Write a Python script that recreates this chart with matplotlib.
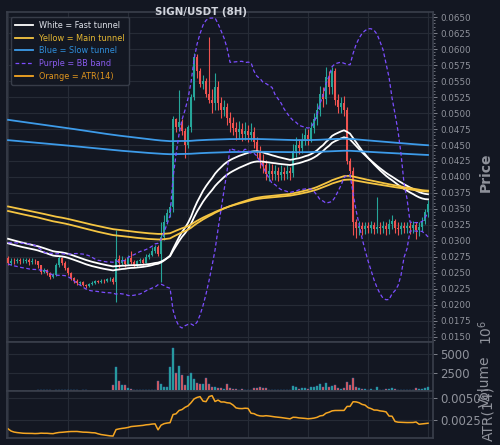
import matplotlib
matplotlib.use("Agg")
import matplotlib.pyplot as plt
import pandas as pd
from matplotlib.ticker import MultipleLocator, AutoMinorLocator, FixedLocator, FormatStrFormatter

# ---- data (8H candles) ----
first_open = 0.0273
closes = [
    0.0266, 0.0269, 0.0268, 0.0270, 0.0268, 0.0269, 0.0270, 0.0267, 0.0269, 0.0268,
    0.0262, 0.0252, 0.0255, 0.0250, 0.0244, 0.0247, 0.0262, 0.0273, 0.0266, 0.0258,
    0.0250, 0.0242, 0.0238, 0.0234, 0.0236, 0.0231, 0.0229, 0.0233, 0.0235, 0.0237,
    0.0236, 0.0238, 0.0237, 0.0240, 0.0241, 0.0236, 0.0272, 0.0266, 0.0271, 0.0264,
    0.0274, 0.0267, 0.0262, 0.0268, 0.0271, 0.0266, 0.0275, 0.0278, 0.0284, 0.0290,
    0.0280, 0.0306, 0.0330, 0.0344, 0.0353, 0.0490, 0.0478, 0.0486, 0.0472, 0.0450,
    0.0478, 0.0525, 0.0588, 0.0565, 0.0545, 0.0550, 0.0530, 0.0520, 0.0515, 0.0540,
    0.0515, 0.0505, 0.0510, 0.0492, 0.0485, 0.0476, 0.0470, 0.0475, 0.0467, 0.0472,
    0.0466, 0.0470, 0.0455, 0.0440, 0.0425, 0.0418, 0.0405, 0.0410, 0.0404, 0.0409,
    0.0403, 0.0408, 0.0404, 0.0409, 0.0406, 0.0440, 0.0450, 0.0445, 0.0458, 0.0465,
    0.0460, 0.0476, 0.0490, 0.0505, 0.0530, 0.0522, 0.0556, 0.0540, 0.0565, 0.0520,
    0.0510, 0.0515, 0.0505, 0.0425, 0.0410, 0.0330, 0.0321, 0.0324, 0.0318, 0.0323,
    0.0321, 0.0325, 0.0319, 0.0322, 0.0320, 0.0324, 0.0318, 0.0327, 0.0331, 0.0321,
    0.0319, 0.0323, 0.0320, 0.0324, 0.0321, 0.0325, 0.0317, 0.0322, 0.0332, 0.0345,
    0.0358,
]
highs = [
    0.0277, 0.0273, 0.0273, 0.0274, 0.0273, 0.0273, 0.0274, 0.0273, 0.0273, 0.0272,
    0.0269, 0.0263, 0.0258, 0.0257, 0.0252, 0.0250, 0.0265, 0.0277, 0.0275, 0.0268,
    0.0260, 0.0252, 0.0244, 0.0240, 0.0238, 0.0237, 0.0233, 0.0235, 0.0237, 0.0239,
    0.0239, 0.0240, 0.0240, 0.0242, 0.0244, 0.0243, 0.0317, 0.0278, 0.0276, 0.0274,
    0.0278, 0.0285, 0.0270, 0.0271, 0.0274, 0.0273, 0.0279, 0.0282, 0.0290, 0.0294,
    0.0293, 0.0330, 0.0340, 0.0350, 0.0360, 0.0496, 0.0492, 0.0536, 0.0490, 0.0476,
    0.0482, 0.0530, 0.0594, 0.0592, 0.0570, 0.0560, 0.0555, 0.0619, 0.0538, 0.0562,
    0.0550, 0.0525, 0.0520, 0.0515, 0.0502, 0.0494, 0.0486, 0.0488, 0.0484, 0.0486,
    0.0482, 0.0484, 0.0478, 0.0462, 0.0448, 0.0436, 0.0426, 0.0422, 0.0420, 0.0418,
    0.0416, 0.0418, 0.0416, 0.0418, 0.0416, 0.0452, 0.0462, 0.0460, 0.0468, 0.0476,
    0.0475, 0.0486, 0.0500, 0.0516, 0.0542, 0.0540, 0.0572, 0.0565, 0.0572, 0.0570,
    0.0530, 0.0525, 0.0526, 0.0510, 0.0430, 0.0416, 0.0334, 0.0331, 0.0329, 0.0330,
    0.0330, 0.0332, 0.0330, 0.0369, 0.0329, 0.0331, 0.0330, 0.0334, 0.0341, 0.0335,
    0.0329, 0.0330, 0.0329, 0.0330, 0.0329, 0.0332, 0.0330, 0.0329, 0.0338, 0.0350,
    0.0364,
]
lows = [
    0.0262, 0.0263, 0.0264, 0.0265, 0.0264, 0.0265, 0.0265, 0.0263, 0.0264, 0.0264,
    0.0258, 0.0249, 0.0250, 0.0247, 0.0241, 0.0242, 0.0245, 0.0260, 0.0263, 0.0255,
    0.0247, 0.0239, 0.0235, 0.0231, 0.0232, 0.0229, 0.0226, 0.0228, 0.0231, 0.0233,
    0.0234, 0.0235, 0.0235, 0.0236, 0.0238, 0.0233, 0.0205, 0.0258, 0.0262, 0.0260,
    0.0262, 0.0264, 0.0259, 0.0260, 0.0265, 0.0263, 0.0265, 0.0272, 0.0276, 0.0281,
    0.0276, 0.0236, 0.0302, 0.0326, 0.0338, 0.0345, 0.0470, 0.0472, 0.0466, 0.0430,
    0.0445, 0.0470, 0.0520, 0.0555, 0.0540, 0.0538, 0.0525, 0.0515, 0.0500, 0.0505,
    0.0505, 0.0492, 0.0495, 0.0482, 0.0470, 0.0465, 0.0458, 0.0460, 0.0456, 0.0458,
    0.0455, 0.0457, 0.0446, 0.0430, 0.0414, 0.0406, 0.0395, 0.0394, 0.0395, 0.0396,
    0.0393, 0.0395, 0.0395, 0.0397, 0.0396, 0.0400, 0.0432, 0.0436, 0.0438, 0.0450,
    0.0450, 0.0454, 0.0468, 0.0482, 0.0496, 0.0510, 0.0514, 0.0530, 0.0530, 0.0512,
    0.0500, 0.0500, 0.0496, 0.0420, 0.0405, 0.0310, 0.0304, 0.0310, 0.0310, 0.0311,
    0.0312, 0.0313, 0.0311, 0.0312, 0.0311, 0.0312, 0.0310, 0.0311, 0.0318, 0.0313,
    0.0310, 0.0311, 0.0312, 0.0313, 0.0311, 0.0312, 0.0303, 0.0308, 0.0315, 0.0326,
    0.0338,
]
volumes = [  # shown on the chart in units of 10^6
    60, 40, 50, 40, 50, 40, 60, 50, 40, 50,
    120, 150, 80, 90, 110, 70, 160, 200, 90, 80,
    100, 110, 90, 80, 70, 90, 80, 70, 60, 70,
    50, 60, 50, 60, 70, 800, 3300, 1300, 800, 800,
    400, 300, 150, 120, 100, 100, 120, 100, 150, 200,
    1300, 1000, 600, 600, 3200, 5800, 2500, 3400, 2200, 800,
    2000, 2400, 1600, 1100, 1000, 900, 1700, 1000, 600, 500,
    400, 350, 300, 900, 400, 300, 250, 200, 250, 200,
    200, 200, 400, 450, 500, 350, 400, 200, 150, 150,
    120, 150, 120, 150, 150, 700, 500, 300, 400, 450,
    300, 500, 600, 700, 900, 500, 1100, 600, 700, 800,
    400, 300, 400, 1200, 800, 1800, 600, 400, 300, 250,
    200, 250, 200, 600, 200, 200, 250, 300, 400, 250,
    200, 200, 150, 200, 150, 200, 350, 250, 300, 400,
    500,
]
# closes before the visible window (only used to warm up the BB)
hist_closes = [0.0283, 0.0282, 0.0284, 0.0283, 0.0281, 0.0280, 0.0282, 0.0284, 0.0288, 0.0293,
               0.0296, 0.0292, 0.0286, 0.0280, 0.0275, 0.0271, 0.0269, 0.0268, 0.0270]
# tunnel EMA values at the left edge of the chart: (upper line, lower line)
fast_seed = (0.0305, 0.0298)
main_seed = (0.0355, 0.0348)
slow_seed = (0.0490, 0.0458)

# ---- indicators ----
n = len(closes)
x = list(range(n))
opens = [first_open] + closes[:-1]
cs, hs, ls = pd.Series(closes), pd.Series(highs), pd.Series(lows)


def ema(s, span, seed):
    return pd.concat([pd.Series([seed]), s], ignore_index=True).ewm(span=span, adjust=False).mean().iloc[1:].values


fast_a, fast_b = ema(cs, 50, fast_seed[0]), ema(cs, 40, fast_seed[1])
main_a, main_b = ema(cs, 169, main_seed[0]), ema(cs, 144, main_seed[1])
slow_a, slow_b = ema(cs, 676, slow_seed[0]), ema(cs, 900, slow_seed[1])

allc = pd.Series(hist_closes + closes)
mid = allc.rolling(20, min_periods=1).mean()
sd = allc.rolling(20, min_periods=1).std(ddof=0)
bb_up = (mid + 2 * sd).iloc[-n:].values
bb_lo = (mid - 2 * sd).iloc[-n:].values

pc = pd.Series(opens)
tr = pd.concat([hs - ls, (hs - pc).abs(), (ls - pc).abs()], axis=1).max(axis=1)
atr = tr.rolling(14, min_periods=1).mean().values

# ---- style ----
bg = "#131722"
grid_c = "#262b36"
spine_c = "#3a3f4b"
txt_c = "#8f929b"
up_c, dn_c = "#26a69a", "#ef5350"
yel, blu, pur, org = "#f5c542", "#3d9be9", "#7c4dff", "#f5a623"

fig = plt.figure(figsize=(5, 4.45), dpi=100, facecolor=bg)
ax = fig.add_axes([0.014, 0.2315, 0.852, 0.7415], facecolor=bg)
axv = fig.add_axes([0.014, 0.1213, 0.852, 0.1102], facecolor=bg, sharex=ax)
axa = fig.add_axes([0.014, 0.0157, 0.852, 0.1056], facecolor=bg, sharex=ax)

cols = [up_c if c >= o else dn_c for o, c in zip(opens, closes)]
ax.vlines(x, lows, highs, colors=cols, lw=0.8, zorder=2)
ax.bar(x, [abs(c - o) or 0.00003 for o, c in zip(opens, closes)],
       bottom=[min(o, c) for o, c in zip(opens, closes)], width=0.6, color=cols, zorder=3)

ax.plot(x, fast_a, color="white", lw=1.3, label="White = Fast tunnel", zorder=4)
ax.plot(x, fast_b, color="white", lw=1.3, zorder=4)
ax.plot(x, main_a, color=yel, lw=1.3, label="Yellow = Main tunnel", zorder=4)
ax.plot(x, main_b, color=yel, lw=1.3, zorder=4)
ax.plot(x, slow_a, color=blu, lw=1.3, label="Blue = Slow tunnel", zorder=4)
ax.plot(x, slow_b, color=blu, lw=1.3, zorder=4)
ax.plot(x, bb_up, color=pur, lw=0.9, ls=(0, (3, 2)), label="Purple = BB band", zorder=4)
ax.plot(x, bb_lo, color=pur, lw=0.9, ls=(0, (3, 2)), zorder=4)
ax.plot([], [], color=org, lw=1.3, label="Orange = ATR(14)")

leg = ax.legend(loc="upper left", fontsize=5.9, facecolor=bg, edgecolor=spine_c, framealpha=0.95,
                borderpad=0.5, handlelength=2.2, handletextpad=0.7, labelspacing=0.45,
                borderaxespad=0.3, bbox_to_anchor=(0.004, 0.993))
for t, c in zip(leg.get_texts(), ["#e0e3eb", "#e6b832", "#2f8fdc", "#8a5cf0", "#e0951e"]):
    t.set_color(c)

axv.bar(x, volumes, width=0.8, color=cols, edgecolor="#2f6fb0", linewidth=0.3)
axa.plot(x, atr, color=org, lw=1.1)

ax.set_xlim(-0.35, 141.65)
ax.set_ylim(0.01422, 0.06578)
axv.set_ylim(0, 6620)
axa.set_ylim(0.000455, 0.0058)

ax.yaxis.set_major_locator(MultipleLocator(0.0025))
ax.yaxis.set_minor_locator(AutoMinorLocator(5))
ax.yaxis.set_major_formatter(FormatStrFormatter("%.4f"))
axv.yaxis.set_major_locator(FixedLocator([2500, 5000]))
axa.yaxis.set_major_locator(FixedLocator([0.0025, 0.0050]))
axa.yaxis.set_major_formatter(FormatStrFormatter("%.4f"))
ax.xaxis.set_major_locator(MultipleLocator(20))

for a, fs in [(ax, 6.3), (axv, 8.5), (axa, 8.5)]:
    a.yaxis.tick_right()
    a.tick_params(axis="y", colors=txt_c, labelsize=fs, length=3, width=0.6, pad=2)
    a.tick_params(axis="y", which="minor", colors=txt_c, length=1.5, width=0.5)
    a.tick_params(axis="x", length=0, labelbottom=False)
    a.grid(True, color=grid_c, lw=0.8)
    a.set_axisbelow(True)
    for s in a.spines.values():
        s.set_color(spine_c)
        s.set_linewidth(1.2)

fig.text(0.402, 0.973, "SIGN/USDT (8H)", color="#d1d4dc", fontsize=7.4, fontweight="bold",
         ha="center", va="center")
fig.text(0.972, 0.613, "Price", color=txt_c, fontsize=10, fontweight="bold", rotation=90,
         ha="center", va="center")
fig.text(0.972, 0.254, r"$10^6$", color=txt_c, fontsize=10, rotation=90, ha="center", va="center")
fig.text(0.970, 0.143, "Volume", color=txt_c, fontsize=10, rotation=90, ha="center", va="center")
fig.text(0.976, 0.070, "ATR(14)", color=txt_c, fontsize=10, rotation=90, ha="center", va="center")

fig.savefig("out.png", dpi=100, facecolor=bg)
